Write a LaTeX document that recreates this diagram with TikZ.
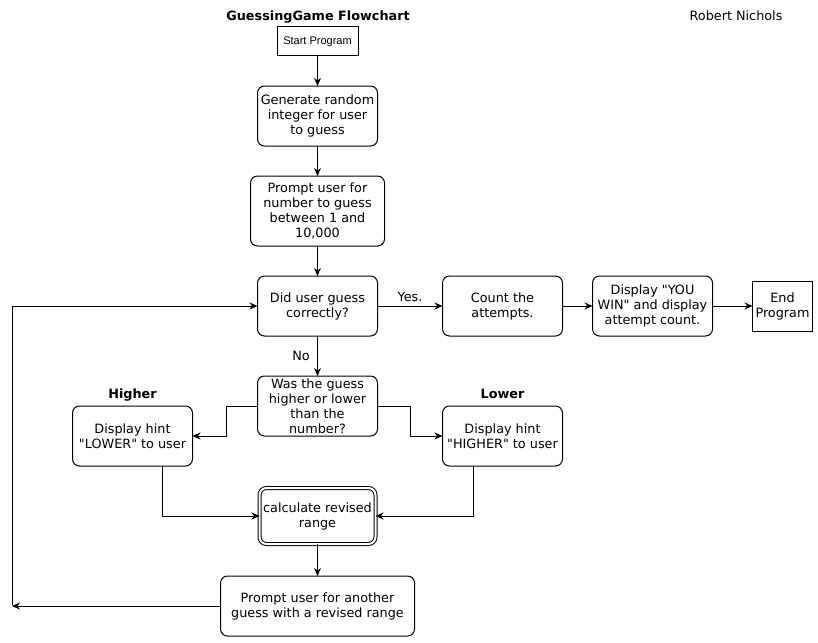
\documentclass[tikz,border=0pt]{standalone}
\usepackage{fontspec}
\setmainfont{DejaVu Sans}
\newfontfamily\arialfont{Liberation Sans}
\usetikzlibrary{arrows.meta,positioning}
\newcommand{\boxfont}{\fontsize{12.8pt}{15pt}\selectfont}
\newcommand{\qq}{\textquotedbl}
\tikzstyle{block} = [rectangle, draw, rounded corners=7pt, align=center,
    minimum width=120pt, minimum height=60pt, inner sep=2pt, outer sep=0pt, font=\boxfont]
\tikzstyle{plainbox} = [rectangle, draw, align=center, inner sep=2pt, outer sep=0pt]
\tikzstyle{heading} = [font=\boxfont\bfseries, inner sep=1pt, text depth=0pt]

\begin{document}
\begin{tikzpicture}[->,>={Stealth[length=8pt,width=7pt,inset=2.5pt]},
                    line width=1pt,x=1pt,y=1pt,node distance=30pt]
  \useasboundingbox (0,0) rectangle (818,-642);

  \node[heading]  (title) at (318,-16)  {GuessingGame Flowchart};
  \node[font=\boxfont, inner sep=1pt] (author) at (736,-16) {Robert Nichols};

  \node[plainbox, font=\arialfont\fontsize{11pt}{13pt}\selectfont,
        minimum width=81pt, minimum height=29pt]
                  (start) at (317.5,-41.5) {Start Program};
  \node[block]    (gen)    [below=of start]  {Generate random\\integer for user\\to guess};
  \node[block, minimum width=134pt, minimum height=70pt]
                  (ask)    [below=of gen]    {Prompt user for\\number to guess\\between 1 and\\10,000};
  \node[block]    (did)    [below=of ask]    {Did user guess\\correctly?};
  \node[block]    (count)  [right=65pt of did] {Count the\\attempts.};
  \node[block]    (win)    [right=of count]  {Display \qq YOU\\WIN\qq{} and display\\attempt count.};
  \node[plainbox, font=\boxfont, minimum width=60pt, minimum height=50pt]
                  (stop)   [right=40pt of win] {End\\Program};
  \node[block]    (was)    [below=40pt of did] {Was the guess\\higher or lower\\than the\\number?};
  \node[block]    (lower)  [left=65pt of was, yshift=-30pt]  {Display hint\\\qq LOWER\qq{} to user};
  \node[block]    (higher) [right=65pt of was, yshift=-30pt] {Display hint\\\qq HIGHER\qq{} to user};
  \node[heading]  (hilabel) [above=6pt of lower]  {Higher};
  \node[heading]  (lolabel) [above=6pt of higher] {Lower};
  \node[block, double, double distance=2pt, minimum width=116pt, minimum height=56pt]
                  (revise) [below=52pt of was] {calculate revised\\range};
  \node[block, minimum width=194pt]
                  (again)  [below=32pt of revise] {Prompt user for another\\guess with a revised range};
  \coordinate (leftedge) at (12,0);
  \coordinate (loop) at (leftedge |- again.west);

  \draw (start) -- (gen);
  \draw (gen) -- (ask);
  \draw (ask) -- (did);
  \draw (did) -- node[above, font=\boxfont] {Yes.} (count);
  \draw (count) -- (win);
  \draw (win) -- (stop);
  \draw (did) -- node[left, font=\boxfont, xshift=-4pt] {No} (was);
  \draw (was.west) -- ++(-31,0) |- (lower.east);
  \draw (was.east) -- ++(33,0) |- (higher.west);
  \draw ([xshift=30pt]lower.south) |- (revise.west);
  \draw ([xshift=-29pt]higher.south) |- (revise.east);
  \draw (revise) -- (again);
  \draw (again.west) -- (loop);
  \draw ([yshift=1pt]loop) |- (did.west);
\end{tikzpicture}
\end{document}
